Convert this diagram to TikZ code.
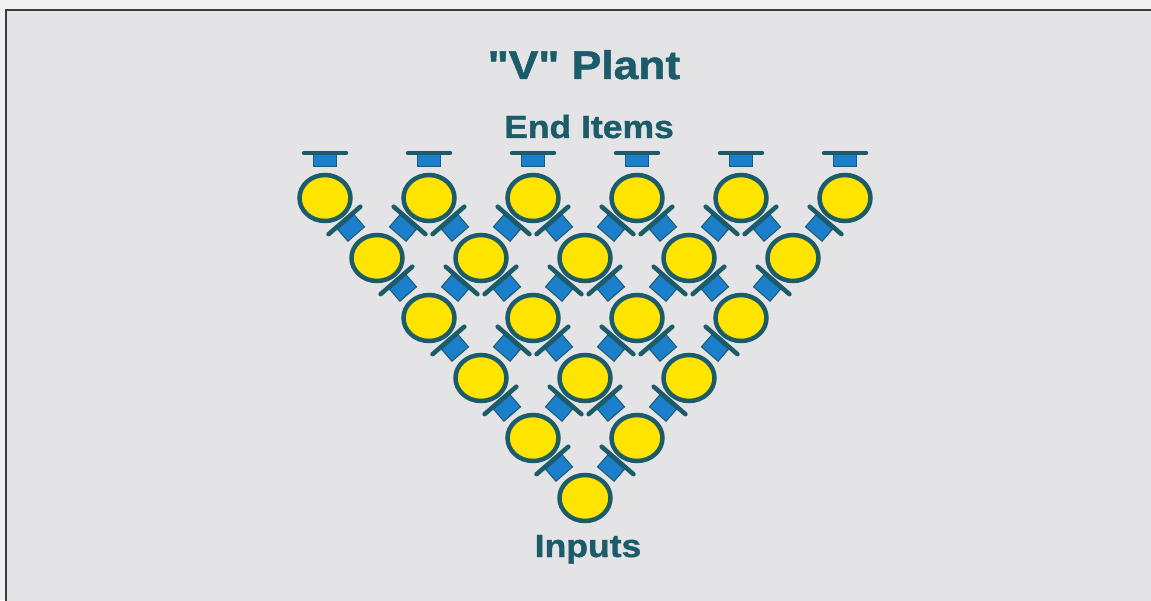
\documentclass[tikz,border=0pt]{standalone}
\usepackage{fontspec}
\setmainfont{Liberation Sans}
\newfontfamily\labelfont[FakeStretch=1.11, BoldFeatures={FakeBold=1.2}]{Liberation Sans}
\usetikzlibrary{calc,shapes.geometric}
\definecolor{bgpage}{HTML}{F1EFEF}
\definecolor{panel}{HTML}{E4E4E6}
\definecolor{framec}{HTML}{3C3C3C}
\definecolor{tealink}{HTML}{1B5B6A}
\definecolor{hatblue}{HTML}{1C7FCB}
\definecolor{disc}{HTML}{FFE400}
\tikzset{
  stage/.style={ellipse, draw=tealink, line width=4.5pt, fill=disc,
    minimum width=51pt, minimum height=46pt, inner sep=0pt},
  caption/.style={text=tealink, anchor=base, inner sep=0pt},
  % output cap above an end item
  hat/.pic={
    \filldraw[fill=hatblue, draw=tealink, line width=1pt] (-11.5,-6) rectangle (11.5,6);
    \draw[tealink, line width=4.5pt, line cap=round] (-21,8) -- (21,8);
  },
  % feed between two stages, its bar toward the upper stage
  feed/.pic={
    \filldraw[fill=hatblue, draw=tealink, line width=1pt] (-11,-8) rectangle (11,8);
    \draw[tealink, line width=4.5pt, line cap=round] (-21,10) -- (21,10);
  }
}
\begin{document}
\begin{tikzpicture}[x=1pt,y=1pt]
  \useasboundingbox (0,0) rectangle (1151,600);
  \fill[bgpage] (0,0) rectangle (1151,600);
  % panel with its frame
  \fill[panel] (6,-10) rectangle (1160,590);
  \draw[framec, line width=2.5pt] (6,-10) -- (6,590) -- (1160,590);

  % headings
  \node[caption, font=\labelfont\bfseries\fontsize{40}{48}\selectfont] (title) at (584,521) {"V" Plant};
  \node[caption, font=\labelfont\bfseries\fontsize{32}{38}\selectfont] (top) at (589,462) {End Items};
  \node[caption, font=\labelfont\bfseries\fontsize{32}{38}\selectfont] (bottom) at (588,43) {Inputs};

  % stages: row 1 holds the end items, row 6 the input
  \foreach \r in {1,...,6}{
    \pgfmathtruncatemacro\cnt{7-\r}
    \foreach \k in {1,...,\cnt}{
      \node[stage] (c-\r-\k) at ({585+52*(2*\k-\cnt-1)}, {402-60*(\r-1)}) {};
    }
  }

  % feeds between stages
  \foreach \r in {2,...,6}{
    \pgfmathtruncatemacro\cnt{7-\r}
    \pgfmathtruncatemacro\up{\r-1}
    \foreach \k in {1,...,\cnt}{
      \pgfmathtruncatemacro\nx{\k+1}
      \pic[rotate=40.9] at ($(c-\r-\k)!0.5!(c-\up-\k)$) {feed};
      \pic[rotate=-40.9] at ($(c-\r-\k)!0.5!(c-\up-\nx)$) {feed};
    }
  }

  % outputs above the end items
  \foreach \k in {1,...,6}{
    \pic at ($(c-1-\k)+(0,37)$) {hat};
  }
\end{tikzpicture}
\end{document}
